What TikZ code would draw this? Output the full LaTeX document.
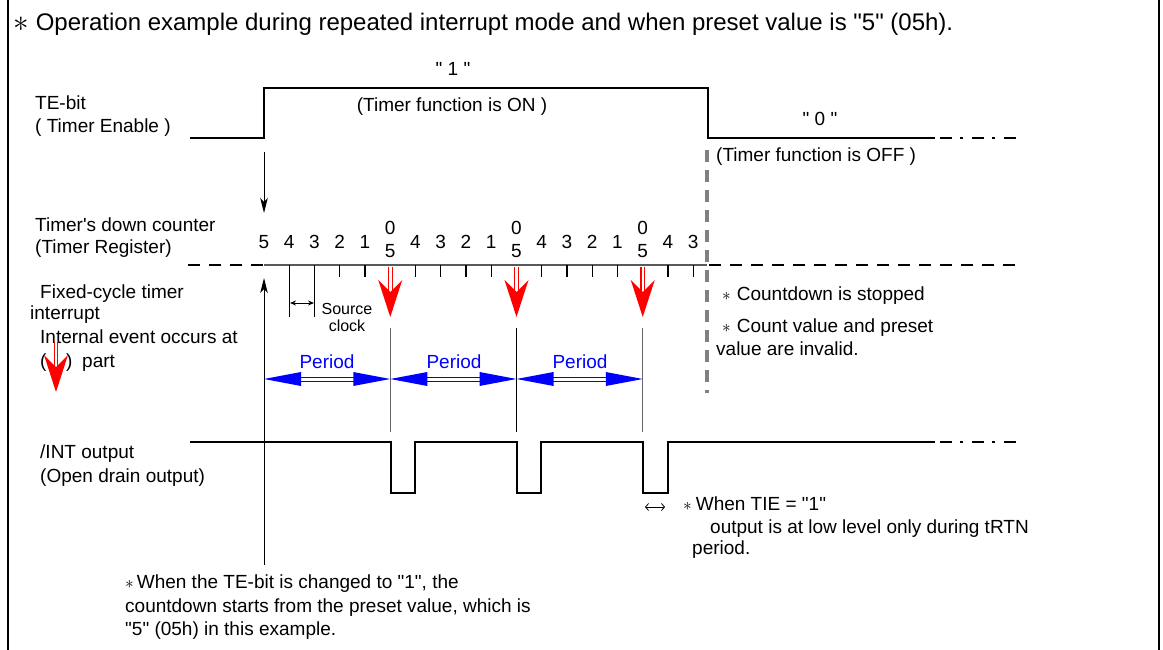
\documentclass[tikz,border=0pt]{standalone}
\usepackage{graphicx}
\usepackage{fontspec}
\setmainfont{Liberation Sans}[Ligatures=TeXOff]
\usetikzlibrary{arrows.meta}
\newcommand\redarr[2]{% x, ytop
  \draw[redstem] (#1-1.8,#2)--(#1-1.8,#2+24) (#1+1.8,#2)--(#1+1.8,#2+24);
  \fill[red] (#1-12,#2+13)--(#1,#2+25)--(#1+12,#2+13)--(#1,#2+50)--cycle;}
\newcommand\perarr[3]{% x1, x2, y
  \fill[blue] (#1,#3)--(#1+37,#3-7)--(#1+37,#3+7)--cycle;
  \fill[blue] (#2,#3)--(#2-37,#3-7)--(#2-37,#3+7)--cycle;
  \draw[blue,line width=1pt] (#1+36,#3-2)--(#2-36,#3-2) (#1+36,#3+2)--(#2-36,#3+2);}
\begin{document}
\begin{tikzpicture}[x=1pt,y=-1pt,
  lbl/.style={anchor=base west, inner sep=0pt, font=\fontsize{19}{23}\selectfont},
  clbl/.style={anchor=base, inner sep=0pt, font=\fontsize{19}{23}\selectfont},
  small/.style={anchor=base, inner sep=0pt, font=\fontsize{16}{19}\selectfont},
  sig/.style={line width=2.6pt},
  dashsig/.style={line width=2.6pt, dash pattern=on 12pt off 9pt},
  dashdot/.style={line width=2.6pt, dash pattern=on 12pt off 8pt on 3pt off 9pt},
  stopline/.style={line width=3.5pt, draw=black!50, dash pattern=on 12pt off 8pt},
  axisline/.style={line width=1.5pt, draw=black!65},
  tickline/.style={line width=1.3pt},
  thinline/.style={line width=1pt},
  redstem/.style={draw=red, line width=1.1pt},
  frame/.style={line width=1.3pt}]
\useasboundingbox (0,0) rectangle (1163,650);
% frame
\draw[frame] (8,0) -- (8,650);
\draw[frame] (1159,0) -- (1159,650);
% title
\node[anchor=base west, inner sep=0pt, font=\fontsize{24}{28}\selectfont] (title) at (13,31)
  {\raisebox{-1pt}{\scalebox{1.25}{$\ast$}}\hspace{7pt}Operation example during repeated interrupt mode and when preset value is "5" (05h).};
% TE-bit
\node[lbl] (te1) at (35,110) {TE-bit};
\node[lbl] (te2) at (35,133) {( Timer Enable )};
\node[clbl] (one) at (453,76) {" 1 "};
\node[clbl] (on) at (452,112) {(Timer function is ON )};
\node[clbl] (zero) at (820,126) {" 0 "};
\node[lbl] (off) at (716,162) {(Timer function is OFF )};
\draw[sig] (190,138) -- (264,138) -- (264,88) -- (708,88) -- (708,138) -- (935,138);
\draw[dashdot] (940,138) -- (1018,138);
% stop line
\draw[stopline] (707,150) -- (707,393);
% TE arrow
\coordinate (teA) at (264,152);
\coordinate (teB) at (264,213);
\draw[thinline,-{Stealth[length=15pt,width=7.5pt,inset=4pt]}] (teA) -- (teB);
% counter labels
\node[lbl] (cnt1) at (35,231) {Timer's down counter};
\node[lbl] (cnt2) at (35,253) {(Timer Register)};
\foreach \k/\v in {0/5,1/4,2/3,3/2,4/1,6/4,7/3,8/2,9/1,11/4,12/3,13/2,14/1,16/4,17/3}
  \node[clbl] (n\k) at (264+25.25*\k,248) {\v};
\foreach \k in {5,10,15} {
  \node[clbl] (z\k) at (264+25.25*\k,235) {0};
  \node[clbl] (f\k) at (264+25.25*\k,257) {5};
}
% axis
\draw[dashsig] (188,265) -- (264,265);
\draw[axisline] (264,265) -- (707,265);
\draw[dashsig] (709,265) -- (1018,265);
\foreach \k in {3,4,6,7,8,9,11,12,13,14,16,17}
  \draw[tickline] (264+25.25*\k,265) -- ++(0,12);
\draw[tickline] (289.25,265) -- (289.25,317);
\draw[tickline] (314.5,265) -- (314.5,317);
\coordinate (scA) at (290,303);
\coordinate (scB) at (314,303);
\draw[thinline,{Stealth[length=6pt,width=5pt]}-{Stealth[length=6pt,width=5pt]}] (scA) -- (scB);
\node[small] (src1) at (347,314) {Source};
\node[small] (src2) at (347,331) {clock};
% red arrows
\redarr{390.25}{267}
\redarr{516.5}{267}
\redarr{642.75}{267}
% interrupt labels
\node[lbl] (fx1) at (40,298) {Fixed-cycle timer};
\node[lbl] (fx2) at (30,319) {interrupt};
\node[lbl] (fx3) at (40,343) {Internal event occurs at};
\node[lbl] (fx4) at (40,367) {(};
\node[lbl] (fx5) at (66,367) {)};
\node[lbl] (fx6) at (82,367) {part};
\redarr{56}{342}
% vertical guide lines
\coordinate (upA) at (264,565);
\coordinate (upB) at (264,278);
\draw[thinline,-{Stealth[length=15pt,width=7.5pt,inset=4pt]}] (upA) -- (upB);
\draw[thinline,draw=black!60] (390.25,328) -- (390.25,432);
\draw[thinline] (516.5,328) -- (516.5,432);
\draw[thinline,draw=black!60] (642.75,328) -- (642.75,432);
% period arrows
\perarr{264}{390.25}{379}
\perarr{390.25}{516.5}{379}
\perarr{516.5}{642.75}{379}
\node[clbl,text=blue] (p1) at (327,368) {Period};
\node[clbl,text=blue] (p2) at (454,368) {Period};
\node[clbl,text=blue] (p3) at (580,368) {Period};
% right notes
\node[lbl] (r1) at (722,300) {$\ast$\hspace{6pt}Countdown is stopped};
\node[lbl] (r2) at (722,332) {$\ast$\hspace{6pt}Count value and preset};
\node[lbl] (r3) at (716,355) {value are invalid.};
% INT output
\node[lbl] (int1) at (40,458) {/INT output};
\node[lbl] (int2) at (40,482) {(Open drain output)};
\draw[sig] (190,442) -- (391,442) -- (391,493) -- (415,493) -- (415,442)
  -- (517,442) -- (517,493) -- (541,493) -- (541,442)
  -- (643,442) -- (643,493) -- (668,493) -- (668,442) -- (935,442);
\draw[dashdot] (940,442) -- (1018,442);
\coordinate (tA) at (645,507);
\coordinate (tB) at (665,507);
\draw[line width=0.8pt,{Straight Barb[length=3pt,width=7pt]}-{Straight Barb[length=3pt,width=7pt]}] (tA) -- (tB);
\node[lbl] (tie1) at (683,510) {$\ast$\hspace{4pt}When TIE = "1"};
\node[lbl] (tie2) at (710,533) {output is at low level only during tRTN};
\node[lbl] (tie3) at (692,554) {period.};
% bottom note
\node[lbl] (b1) at (125,588) {$\ast$\hspace{3pt}When the TE-bit is changed to "1", the};
\node[lbl] (b2) at (125,612) {countdown starts from the preset value, which is};
\node[lbl] (b3) at (125,635) {"5" (05h) in this example.};
\end{tikzpicture}
\end{document}
